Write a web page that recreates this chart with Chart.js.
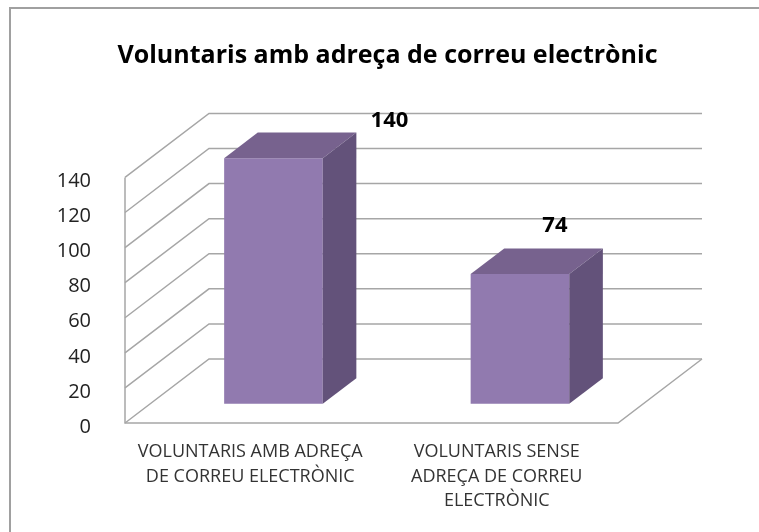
<!DOCTYPE html>
<html>
<head>
<meta charset="utf-8">
<script src="https://cdn.jsdelivr.net/npm/chart.js@4.4.1/dist/chart.umd.min.js"></script>
<style>
    body { margin: 0; background: #fff; }
    canvas { display: block; }
</style>
</head>
<body>
<canvas id="chart" width="759" height="532"></canvas>
<script>
const categories = [
    ['VOLUNTARIS AMB ADREÇA', 'DE CORREU ELECTRÒNIC'],
    ['VOLUNTARIS SENSE', 'ADREÇA DE CORREU', 'ELECTRÒNIC']
];
const values = [140, 74];
const yTicks = [0, 20, 40, 60, 80, 100, 120, 140];

const FONT = '"Open Sans", Lato, sans-serif';

// 3d look: back wall offset, bar sits between 30% and 70% of the depth
const wall = { dx: 84, dy: -64 };
const barDepth = { front: 0.3, back: 0.7 };
// excel puts the value labels a bit off the bars
const valueLabelNudge = [[116, -37], [35, -48]];

const fakeThreeD = {
    id: 'fakeThreeD',
    beforeDraw(chart) {
        const ctx = chart.ctx;
        ctx.save();
        ctx.strokeStyle = '#a0a0a0';
        ctx.lineWidth = 2;
        ctx.strokeRect(10, 8, 800, 600);
        ctx.restore();
    },
    beforeDatasetsDraw(chart) {
        const { ctx, chartArea: a, scales: { y } } = chart;
        ctx.save();
        ctx.strokeStyle = '#a6a6a6';
        ctx.lineWidth = 1.5;
        y.ticks.forEach(t => {
            const py = y.getPixelForValue(t.value);
            ctx.beginPath();
            ctx.moveTo(a.left, py);
            ctx.lineTo(a.left + wall.dx, py + wall.dy);
            ctx.lineTo(a.right + wall.dx, py + wall.dy);
            ctx.stroke();
        });
        ctx.beginPath();
        ctx.moveTo(a.left, a.top);
        ctx.lineTo(a.left, a.bottom);
        ctx.lineTo(a.right, a.bottom);
        ctx.lineTo(a.right + wall.dx, a.bottom + wall.dy);
        ctx.stroke();
        ctx.restore();

        // front faces get drawn by chart.js, pushed back into the box
        ctx.save();
        ctx.translate(wall.dx * barDepth.front, wall.dy * barDepth.front);
    },
    afterDatasetsDraw(chart) {
        const ctx = chart.ctx;
        ctx.restore();

        const sx = wall.dx * barDepth.front, sy = wall.dy * barDepth.front;
        const ddx = wall.dx * (barDepth.back - barDepth.front);
        const ddy = wall.dy * (barDepth.back - barDepth.front);

        chart.getDatasetMeta(0).data.forEach((el, i) => {
            const x0 = el.x - el.width / 2 + sx, x1 = el.x + el.width / 2 + sx;
            const yt = el.y + sy, yb = el.base + sy;

            ctx.fillStyle = '#77628e';
            ctx.beginPath();
            ctx.moveTo(x0, yt);
            ctx.lineTo(x1, yt);
            ctx.lineTo(x1 + ddx, yt + ddy);
            ctx.lineTo(x0 + ddx, yt + ddy);
            ctx.closePath();
            ctx.fill();

            ctx.fillStyle = '#63527a';
            ctx.beginPath();
            ctx.moveTo(x1, yt);
            ctx.lineTo(x1 + ddx, yt + ddy);
            ctx.lineTo(x1 + ddx, yb + ddy);
            ctx.lineTo(x1, yb);
            ctx.closePath();
            ctx.fill();

            ctx.fillStyle = '#000';
            ctx.font = 'bold 22px ' + FONT;
            ctx.textAlign = 'center';
            ctx.textBaseline = 'middle';
            ctx.fillText(String(values[i]), el.x + sx + valueLabelNudge[i][0], yt + valueLabelNudge[i][1]);
        });

        // category labels, wrapped like excel does
        const x = chart.scales.x;
        ctx.fillStyle = '#333';
        ctx.font = '18px ' + FONT;
        ctx.textAlign = 'center';
        ctx.textBaseline = 'middle';
        categories.forEach((lines, i) => {
            const cx = x.getPixelForValue(i) + 2;
            lines.forEach((ln, j) => ctx.fillText(ln, cx, x.top + 29 + j * 24.5));
        });
    }
};

new Chart(document.getElementById('chart'), {
    type: 'bar',
    data: {
        labels: categories,
        datasets: [{
            data: values,
            backgroundColor: '#917aaf',
            borderWidth: 0,
            barPercentage: 0.4,
            categoryPercentage: 1,
            clip: false
        }]
    },
    options: {
        responsive: false,
        animation: false,
        layout: { padding: { left: 26, right: 10, top: 0, bottom: 0 } },
        plugins: {
            legend: { display: false },
            tooltip: { enabled: false },
            title: {
                display: true,
                text: 'Voluntaris amb adreça de correu electrònic',
                color: '#000',
                font: { size: 25, weight: 'bold', family: FONT, lineHeight: 1.2 },
                padding: { top: 41, bottom: 106.4 }
            }
        },
        scales: {
            x: {
                ticks: { display: false },
                grid: { display: false },
                border: { display: false },
                afterFit(s) { s.height = 109; }
            },
            y: {
                min: 0,
                max: 140,
                afterBuildTicks(s) { s.ticks = yTicks.map(v => ({ value: v })); },
                ticks: { padding: 26, labelOffset: 4, color: '#222', font: { size: 20, family: FONT } },
                grid: { display: false },
                border: { display: false },
                afterFit(s) { s.width = 99; }
            },
            y2: {
                position: 'right',
                ticks: { display: false },
                grid: { display: false },
                border: { display: false },
                afterFit(s) { s.width = 131; }
            }
        }
    },
    plugins: [fakeThreeD]
});
</script>
</body>
</html>
